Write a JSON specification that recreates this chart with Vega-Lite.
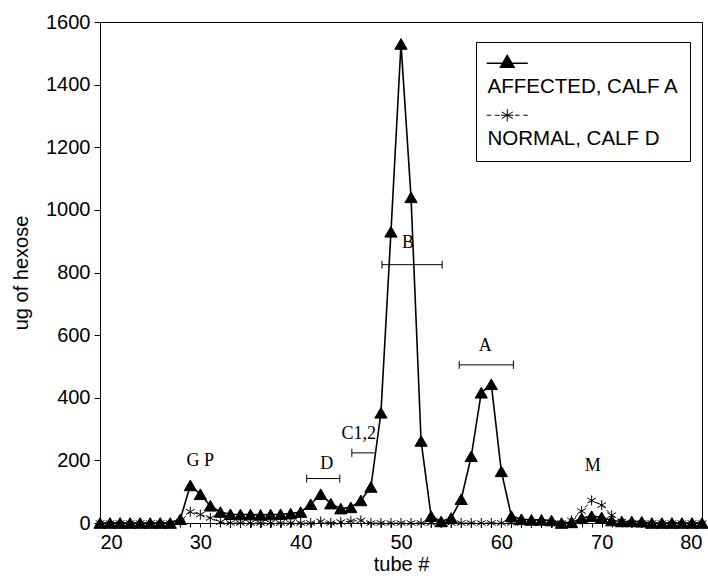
{
  "$schema": "https://vega.github.io/schema/vega-lite/v6.json",
  "width": 602,
  "height": 501,
  "autosize": {"type": "none"},
  "padding": {"left": 100, "top": 22, "right": 6, "bottom": 55},
  "background": "white",
  "config": {
    "view": {"stroke": "black", "strokeWidth": 1},
    "axis": {
      "grid": false,
      "domainColor": "black",
      "tickColor": "black",
      "labelColor": "black",
      "titleColor": "black",
      "labelFont": "Liberation Sans",
      "titleFont": "Liberation Sans",
      "labelFontSize": 20,
      "titleFontSize": 20,
      "titleFontWeight": "normal"
    }
  },
  "layer": [
    {
      "data": {
        "values": [
          {"tube": 20, "affected": 0, "normal": 0},
          {"tube": 21, "affected": 0, "normal": 0},
          {"tube": 22, "affected": 0, "normal": 0},
          {"tube": 23, "affected": 0, "normal": 0},
          {"tube": 24, "affected": 0, "normal": 0},
          {"tube": 25, "affected": 0, "normal": 0},
          {"tube": 26, "affected": 0, "normal": 0},
          {"tube": 27, "affected": 0, "normal": 0},
          {"tube": 28, "affected": 12, "normal": 5},
          {"tube": 29, "affected": 120, "normal": 36},
          {"tube": 30, "affected": 92, "normal": 27},
          {"tube": 31, "affected": 55, "normal": 16},
          {"tube": 32, "affected": 35, "normal": 3},
          {"tube": 33, "affected": 28, "normal": 0},
          {"tube": 34, "affected": 27, "normal": 0},
          {"tube": 35, "affected": 27, "normal": 0},
          {"tube": 36, "affected": 26, "normal": 0},
          {"tube": 37, "affected": 27, "normal": 0},
          {"tube": 38, "affected": 28, "normal": 0},
          {"tube": 39, "affected": 30, "normal": 0},
          {"tube": 40, "affected": 35, "normal": 0},
          {"tube": 41, "affected": 60, "normal": 0},
          {"tube": 42, "affected": 92, "normal": 5},
          {"tube": 43, "affected": 62, "normal": 0},
          {"tube": 44, "affected": 46, "normal": 3},
          {"tube": 45, "affected": 50, "normal": 6},
          {"tube": 46, "affected": 72, "normal": 8},
          {"tube": 47, "affected": 115, "normal": 0},
          {"tube": 48, "affected": 352, "normal": 0},
          {"tube": 49, "affected": 930, "normal": 0},
          {"tube": 50, "affected": 1530, "normal": 0},
          {"tube": 51, "affected": 1040, "normal": 0},
          {"tube": 52, "affected": 262, "normal": 0},
          {"tube": 53, "affected": 22, "normal": 0},
          {"tube": 54, "affected": 5, "normal": 0},
          {"tube": 55, "affected": 16, "normal": 0},
          {"tube": 56, "affected": 76, "normal": 0},
          {"tube": 57, "affected": 213, "normal": 0},
          {"tube": 58, "affected": 416, "normal": 0},
          {"tube": 59, "affected": 443, "normal": 0},
          {"tube": 60, "affected": 165, "normal": 0},
          {"tube": 61, "affected": 22, "normal": 0},
          {"tube": 62, "affected": 12, "normal": 0},
          {"tube": 63, "affected": 10, "normal": 0},
          {"tube": 64, "affected": 10, "normal": 0},
          {"tube": 65, "affected": 8, "normal": 0},
          {"tube": 66, "affected": 0, "normal": 0},
          {"tube": 67, "affected": 2, "normal": 8},
          {"tube": 68, "affected": 15, "normal": 38},
          {"tube": 69, "affected": 22, "normal": 72},
          {"tube": 70, "affected": 18, "normal": 57},
          {"tube": 71, "affected": 8, "normal": 25},
          {"tube": 72, "affected": 5, "normal": 5},
          {"tube": 73, "affected": 5, "normal": 0},
          {"tube": 74, "affected": 4, "normal": 0},
          {"tube": 75, "affected": 0, "normal": 0},
          {"tube": 76, "affected": 0, "normal": 0},
          {"tube": 77, "affected": 0, "normal": 0},
          {"tube": 78, "affected": 0, "normal": 0},
          {"tube": 79, "affected": 0, "normal": 0},
          {"tube": 80, "affected": 0, "normal": 0}
        ]
      },
      "transform": [{"fold": ["normal", "affected"], "as": ["series", "hexose"]}],
      "encoding": {
        "x": {
          "field": "tube", "type": "quantitative",
          "scale": {"domain": [20, 80], "nice": false},
          "axis": {
            "title": "tube #",
            "tickCount": 60,
            "tickSize": 4,
            "labelPadding": 5,
            "labelOverlap": false,
            "labelExpr": "datum.value % 10 === 0 ? datum.label : ''",
            "titlePadding": 2
          }
        },
        "y": {
          "field": "hexose", "type": "quantitative",
          "scale": {"domain": [0, 1600], "nice": false},
          "axis": {
            "title": "ug of hexose",
            "values": [0, 200, 400, 600, 800, 1000, 1200, 1400, 1600],
            "format": "d",
            "tickSize": 6,
            "labelPadding": 4,
            "titlePadding": 14
          }
        }
      },
      "layer": [
        {
          "transform": [{"filter": {"field": "series", "equal": "normal"}}],
          "mark": {"type": "line", "color": "black", "strokeWidth": 1, "strokeDash": [4, 3]}
        },
        {
          "transform": [{"filter": {"field": "series", "equal": "affected"}}],
          "mark": {"type": "line", "color": "black", "strokeWidth": 1.6}
        },
        {
          "transform": [{"filter": {"field": "series", "equal": "normal"}}],
          "mark": {"type": "point", "shape": "M0,-0.82V0.82M-0.71,-0.41L0.71,0.41M-0.71,0.41L0.71,-0.41", "filled": false, "stroke": "black", "strokeWidth": 1, "size": 150},
          "encoding": {
            "opacity": {
              "field": "series", "type": "ordinal",
              "scale": {"domain": ["affected", "normal"], "range": [1, 1]},
              "legend": {
                "title": null,
                "orient": "none",
                "legendX": 376,
                "legendY": 20,
                "padding": 11,
                "strokeColor": "black",
                "fillColor": "white",
                "symbolSize": 1681,
                "symbolOffset": 10,
                "labelFont": "Liberation Sans",
                "labelFontSize": 20.5,
                "labelColor": "black",
                "labelLimit": 400,
                "labelOffset": 0,
                "rowPadding": 7,
                "labelExpr": "datum.value == 'affected' ? 'AFFECTED, CALF A' : 'NORMAL, CALF D'",
                "encoding": {
                  "symbols": {
                    "shape": {"value": {"expr": "datum.value == 'affected' ? 'M-1,0H1M0,-0.38L-0.33,0.19L0.33,0.19Z' : 'M-1,0H-0.78M-0.6,0H-0.38M0.38,0H0.6M0.78,0H1M0,-0.3V0.3M-0.27,-0.16L0.27,0.16M-0.27,0.16L0.27,-0.16M-0.3,0H0.3'"}},
                    "size": {"value": 1681},
                    "fill": {"value": "black"},
                    "stroke": {"value": "black"},
                    "strokeWidth": {"value": {"expr": "datum.value == 'affected' ? 1.5 : 1"}}
                  },
                  "labels": {
                    "dx": {"value": -30},
                    "dy": {"value": 24}
                  }
                }
              }
            }
          }
        },
        {
          "transform": [{"filter": {"field": "series", "equal": "affected"}}],
          "mark": {"type": "point", "shape": "triangle-up", "filled": true, "fill": "black", "stroke": "black", "strokeWidth": 1, "size": 150},
          "encoding": {
            "opacity": {"field": "series", "type": "ordinal"}
          }
        }
      ]
    },
    {
      "data": {
        "values": [
          {"name": "D", "start": 40.6, "end": 43.9, "level": 142},
          {"name": "C1,2", "start": 45.1, "end": 47.4, "level": 224},
          {"name": "B", "start": 48.1, "end": 54.1, "level": 825},
          {"name": "A", "start": 55.8, "end": 61.2, "level": 505}
        ]
      },
      "mark": {"type": "rule", "color": "black", "strokeWidth": 1},
      "encoding": {
        "x": {"field": "start", "type": "quantitative"},
        "x2": {"field": "end"},
        "y": {"field": "level", "type": "quantitative"}
      }
    },
    {
      "data": {
        "values": [
          {"pos": 40.6, "level": 142},
          {"pos": 43.9, "level": 142},
          {"pos": 45.1, "level": 224},
          {"pos": 48.1, "level": 825},
          {"pos": 54.1, "level": 825},
          {"pos": 55.8, "level": 505},
          {"pos": 61.2, "level": 505}
        ]
      },
      "mark": {"type": "point", "shape": "M0,-1V1", "size": 64, "stroke": "black", "strokeWidth": 1, "filled": false, "opacity": 1},
      "encoding": {
        "x": {"field": "pos", "type": "quantitative"},
        "y": {"field": "level", "type": "quantitative"}
      }
    },
    {
      "data": {
        "values": [
          {"label": "G P", "tube": 30, "level": 198},
          {"label": "D", "tube": 42.6, "level": 189},
          {"label": "C1,2", "tube": 45.8, "level": 283},
          {"label": "B", "tube": 50.7, "level": 893},
          {"label": "A", "tube": 58.4, "level": 565},
          {"label": "M", "tube": 69.1, "level": 182}
        ]
      },
      "mark": {"type": "text", "font": "Liberation Serif", "fontSize": 18, "color": "black", "align": "center", "baseline": "middle"},
      "encoding": {
        "x": {"field": "tube", "type": "quantitative"},
        "y": {"field": "level", "type": "quantitative"},
        "text": {"field": "label"}
      }
    }
  ]
}
